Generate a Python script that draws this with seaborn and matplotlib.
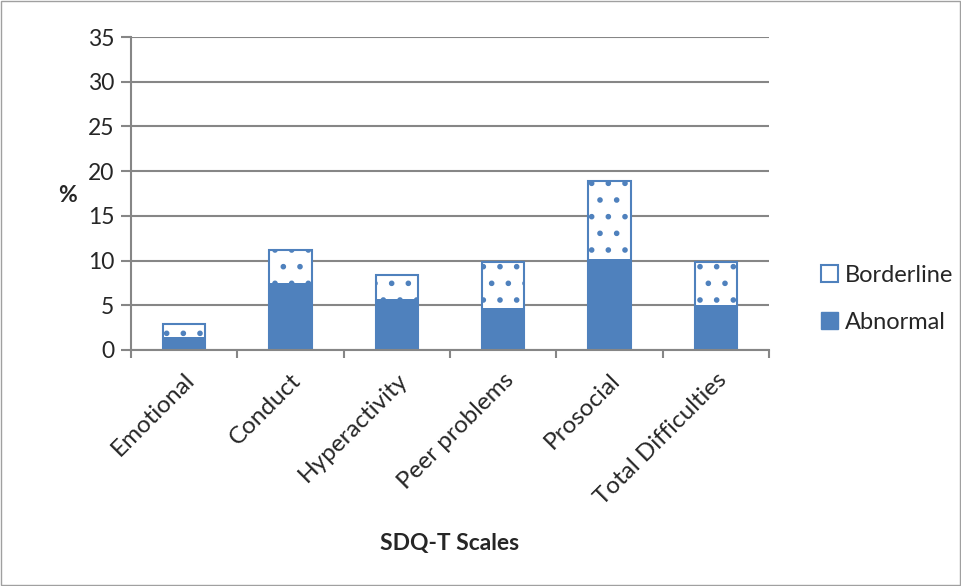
import matplotlib
matplotlib.use("Agg")
import matplotlib.pyplot as plt
from matplotlib.patches import Patch, Rectangle
from matplotlib.ticker import FixedLocator
import seaborn as sns
import pandas as pd

# values (%)
scales = ["Emotional", "Conduct", "Hyperactivity", "Peer problems", "Prosocial", "Total Difficulties"]
abnormal = [1.4, 7.5, 5.7, 4.7, 10.2, 5.0]
borderline = [1.5, 3.7, 2.7, 5.1, 8.7, 4.8]

df = pd.DataFrame({"scale": scales, "abnormal": abnormal, "borderline": borderline})
df["total"] = df["abnormal"] + df["borderline"]

sns.set_style("white")
plt.rcParams["font.family"] = ["Lato", "DejaVu Sans"]
plt.rcParams["hatch.linewidth"] = 1.6
plt.rcParams["hatch.color"] = "#7ea6dc"

blue = "#4f81bd"
grid_c = "#868686"
fs = 16.5

fig = plt.figure(figsize=(9.62, 5.86), dpi=100)
ax = fig.add_axes([131 / 962, 1 - 350 / 586, (769 - 131) / 962, (350 - 37) / 586])

# borderline stacked on top of abnormal: draw totals first, then abnormal over them
sns.barplot(data=df, x="scale", y="total", color="white", edgecolor=blue, linewidth=1.5,
            hatch=".", width=0.4, ax=ax, saturation=1)
sns.barplot(data=df, x="scale", y="abnormal", color=blue, edgecolor=blue, linewidth=0,
            width=0.4, ax=ax, saturation=1)

ax.set_ylim(0, 35)
ax.set_yticks(range(0, 36, 5))
ax.set_xlim(-0.5, len(scales) - 0.5)
ax.yaxis.grid(True, color=grid_c, linewidth=1.5)
ax.set_axisbelow(True)
for s in ["top", "right"]:
    ax.spines[s].set_visible(False)
for s in ["left", "bottom"]:
    ax.spines[s].set_color(grid_c)
    ax.spines[s].set_linewidth(1.5)

ax.tick_params(axis="y", which="major", left=True, length=7, width=1.5, color=grid_c,
               labelsize=fs, pad=5)
ax.set_xticks(range(len(scales)))
ax.set_xticklabels(scales, rotation=45, ha="right", rotation_mode="anchor", fontsize=17.5)
ax.tick_params(axis="x", which="major", length=0, pad=14)
ax.xaxis.set_minor_locator(FixedLocator([i - 0.5 for i in range(len(scales) + 1)]))
ax.tick_params(axis="x", which="minor", bottom=True, length=6, width=1.5, color=grid_c)

ax.set_xlabel("SDQ-T Scales", fontsize=fs, fontweight="bold")
ax.set_ylabel("%", fontsize=fs, fontweight="bold", rotation=0, va="center", ha="center")
ax.yaxis.set_label_coords(-0.1, 0.495)
ax.xaxis.set_label_coords(0.5, -0.585)

handles = [Patch(facecolor="white", edgecolor=blue, linewidth=1.5, label="Borderline"),
           Patch(facecolor=blue, edgecolor=blue, label="Abnormal")]
fig.legend(handles=handles, loc="center left", bbox_to_anchor=(800 / 962, 1 - 299 / 586),
           frameon=False, fontsize=17, handlelength=0.7, handleheight=0.7,
           handletextpad=0.3, labelspacing=1.1)

fig.patches.append(Rectangle((0.001, 0.001), 0.997, 0.997, transform=fig.transFigure,
                             fill=False, edgecolor="#a0a0a0", linewidth=1))

fig.savefig("out.png", dpi=100)
